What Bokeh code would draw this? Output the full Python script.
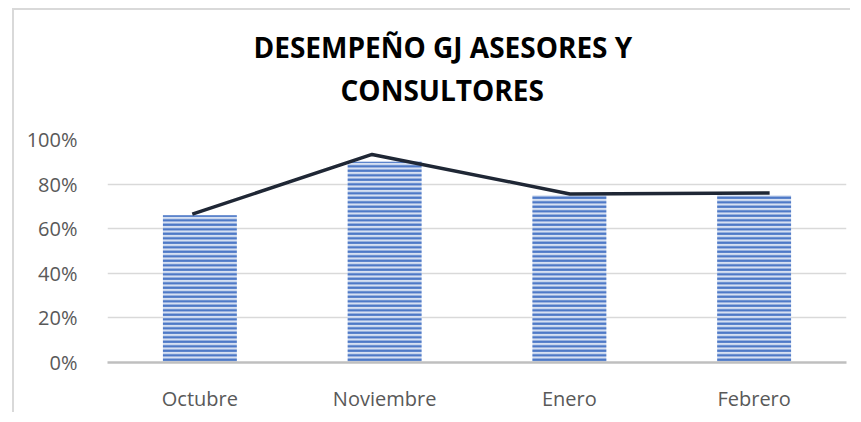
from bokeh.plotting import figure
from bokeh.models import Range1d, NumeralTickFormatter, FixedTicker, Title
from bokeh.embed import file_html
from bokeh.resources import INLINE

meses = ["Octubre", "Noviembre", "Enero", "Febrero"]
cumplimiento = [0.66, 0.90, 0.75, 0.75]
tendencia = [0.665, 0.933, 0.756, 0.760]
desfase_tendencia = [-0.041, -0.068, 0.003, 0.084]
ticks_y = [0, 0.2, 0.4, 0.6, 0.8, 1.0]
titulo = ["DESEMPEÑO GJ ASESORES Y", "CONSULTORES"]

centros = [i + 0.5 for i in range(len(meses))]
x_tend = [c + d for c, d in zip(centros, desfase_tendencia)]

p = figure(width=838, height=404, output_backend="svg", toolbar_location=None,
           x_range=Range1d(0, len(meses)), y_range=Range1d(0, 1.0), title=None,
           min_border_left=93, min_border_right=6, min_border_top=129, min_border_bottom=50)
p.styles = {"margin-left": "12px", "margin-top": "8px",
            "border-left": "2px solid #d9d9d9", "border-top": "2px solid #d9d9d9"}
p.outline_line_color = None
p.background_fill_color = "white"
p.border_fill_color = "white"

p.vbar(x=centros, top=cumplimiento, width=0.4, fill_color="#d6e0f2", line_color=None,
       hatch_pattern="horizontal_line", hatch_color="#4472c4", hatch_scale=4.5, hatch_weight=2.2)
p.line(x_tend, tendencia, line_color="#1f2735", line_width=3.5)

p.xgrid.grid_line_color = None
p.ygrid.grid_line_color = "#d9d9d9"
p.ygrid.grid_line_width = 1.5

p.yaxis.ticker = FixedTicker(ticks=ticks_y)
p.yaxis.formatter = NumeralTickFormatter(format="0%")
p.yaxis.axis_line_color = None
p.yaxis.major_tick_line_color = None
p.yaxis.minor_tick_line_color = None
p.yaxis.major_label_standoff = 24
p.yaxis.major_label_text_font = "Open Sans"
p.yaxis.major_label_text_font_size = "20px"
p.yaxis.major_label_text_color = "#595959"

p.xaxis.ticker = FixedTicker(ticks=centros)
p.xaxis.major_label_overrides = {c: m for c, m in zip(centros, meses)}
p.xaxis.axis_line_color = "#bfbfbf"
p.xaxis.axis_line_width = 2.5
p.xaxis.major_tick_line_color = None
p.xaxis.minor_tick_line_color = None
p.xaxis.major_label_standoff = 16
p.xaxis.major_label_text_font = "Open Sans"
p.xaxis.major_label_text_font_size = "20px"
p.xaxis.major_label_text_color = "#595959"

# blank spacer between the plot area and the title block
p.add_layout(Title(text=" ", standoff=0, text_font="Open Sans",
                   text_font_size="20px", text_line_height=1.0), "above")
# second line nearest the plot, first line above it
for txt, off in [(titulo[1], 233), (titulo[0], 146)]:
    p.add_layout(Title(text=txt, align="left", offset=off, standoff=3,
                       text_font="Open Sans", text_font_style="bold",
                       text_font_size="28px", text_color="#000000", text_line_height=1.0),
                 "above")

open("out.html", "w").write(file_html(p, INLINE))
